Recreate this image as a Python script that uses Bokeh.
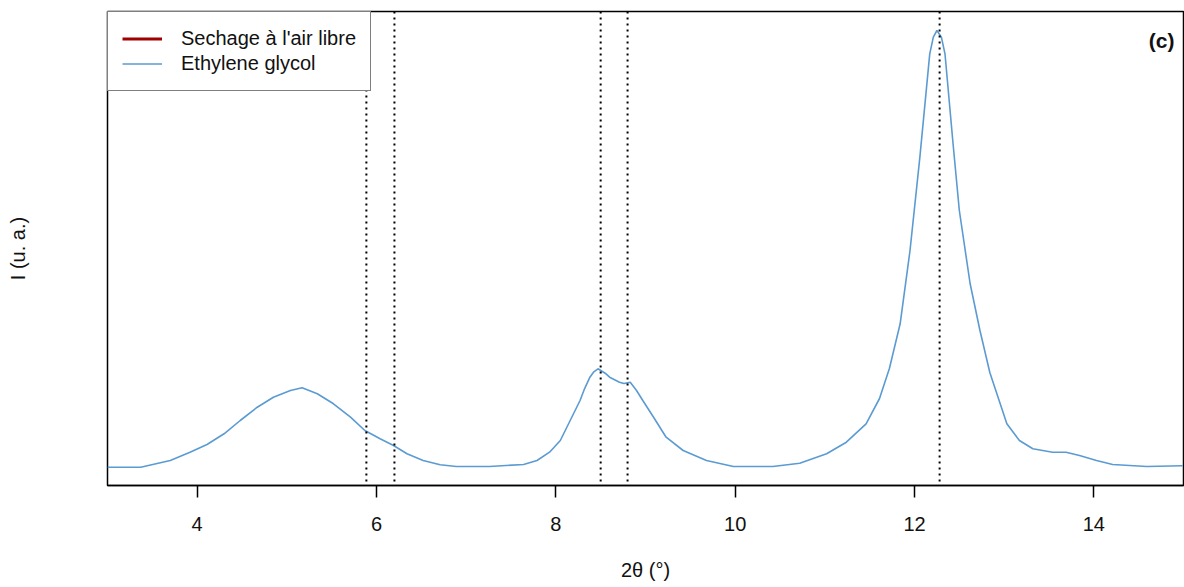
from bokeh.plotting import figure
from bokeh.models import FixedTicker, Range1d, Span, Label, Legend, LegendItem
from bokeh.embed import file_html
from bokeh.resources import INLINE

# ---- data ----
two_theta = [3.00, 3.37, 3.70, 3.92, 4.11, 4.30, 4.48, 4.67, 4.85, 5.04, 5.17, 5.34,
             5.52, 5.71, 5.87, 6.04, 6.19, 6.34, 6.52, 6.71, 6.89, 7.26, 7.64, 7.79,
             7.93, 8.05, 8.16, 8.27, 8.32, 8.38, 8.42, 8.47, 8.55, 8.60, 8.71, 8.76,
             8.83, 8.90, 8.97, 9.09, 9.23,
             9.42, 9.68, 9.98, 10.42, 10.72, 11.02, 11.24, 11.46, 11.61, 11.72, 11.84,
             11.95, 12.06, 12.17, 12.21, 12.25, 12.30, 12.34, 12.43, 12.50, 12.62, 12.73, 12.84,
             13.03, 13.17, 13.32, 13.54, 13.69, 13.84, 14.03, 14.21, 14.59, 14.99]
eg_intensity = [183, 183, 250, 333, 410, 517, 650, 783, 883, 950, 977, 917,
                817, 683, 550, 467, 400, 317, 250, 207, 190, 190, 210, 250,
                333, 450, 650, 850, 967, 1083, 1133, 1167, 1123, 1083, 1033, 1020,
                1033, 950, 850, 683, 483,
                350, 250, 190, 190, 223, 317, 433, 617, 870, 1170, 1617,
                2350, 3283, 4317, 4483, 4550, 4483, 4317, 3417, 2750, 2020, 1550, 1130,
                617, 450, 367, 333, 333, 300, 250, 210, 190, 197]
air_two_theta = [float("nan")]
air_intensity = [float("nan")]
ref_lines = [5.887, 6.2, 8.5, 8.8, 12.28]
x_ticks = [4, 6, 8, 10, 12, 14]

FONT = "Liberation Sans"
BLUE = "#5b9bd2"
RED = "#a00000"
TXT = "#111111"

p = figure(width=1184, height=587, output_backend="svg", toolbar_location=None,
           x_range=Range1d(3, 15), y_range=Range1d(0, 4740),
           min_border_left=107, min_border_right=1, min_border_top=11, min_border_bottom=102)
p.background_fill_color = "white"
p.border_fill_color = "white"
p.grid.visible = False
p.outline_line_color = "black"
p.outline_line_width = 1.5

# x axis
xa = p.xaxis[0]
xa.ticker = FixedTicker(ticks=x_ticks)
xa.minor_tick_line_color = None
xa.major_tick_in = 0
xa.major_tick_out = 12
xa.major_tick_line_width = 1.5
xa.major_tick_line_color = "black"
xa.axis_line_color = "black"
xa.axis_line_width = 1.5
xa.major_label_text_font = FONT
xa.major_label_text_font_size = "20px"
xa.major_label_text_color = TXT
xa.major_label_standoff = 19
xa.axis_label = "2θ (°)"
xa.axis_label_text_font = FONT
xa.axis_label_text_font_size = "20px"
xa.axis_label_text_font_style = "normal"
xa.axis_label_text_color = TXT
xa.axis_label_standoff = 25

# y axis (label only)
ya = p.yaxis[0]
ya.ticker = FixedTicker(ticks=[])
ya.major_tick_line_color = None
ya.minor_tick_line_color = None
ya.major_tick_out = 0
ya.major_tick_in = 0
ya.major_label_standoff = 0
ya.major_label_text_font_size = "0px"
ya.axis_line_color = None
ya.axis_label = "I (u. a.)"
ya.axis_label_text_font = FONT
ya.axis_label_text_font_size = "20px"
ya.axis_label_text_font_style = "normal"
ya.axis_label_text_color = TXT
ya.axis_label_standoff = 79

for v in ref_lines:
    p.add_layout(Span(location=v, dimension="height", line_color="black",
                      line_width=2, line_dash="2 4"))

r_air = p.line(air_two_theta, air_intensity, line_color=RED, line_width=3)
r_eg = p.line(two_theta, eg_intensity, line_color=BLUE, line_width=1.6)

legend = Legend(items=[LegendItem(label="Sechage à l'air libre", renderers=[r_air]),
                       LegendItem(label="Ethylene glycol", renderers=[r_eg])],
                location="top_left", margin=0, padding=14, spacing=0,
                glyph_width=40, glyph_height=25, label_height=25, label_standoff=19,
                label_text_font=FONT, label_text_font_size="20px",
                label_text_color=TXT,
                border_line_color="black", border_line_width=1.8,
                background_fill_color="white", background_fill_alpha=1.0)
p.add_layout(legend)

p.add_layout(Label(x=14.90, y=4450, text="(c)", text_align="right",
                   text_baseline="middle", text_font=FONT, text_font_size="21px",
                   text_font_style="bold", text_color=TXT))

open("out.html", "w").write(file_html(p, INLINE))
